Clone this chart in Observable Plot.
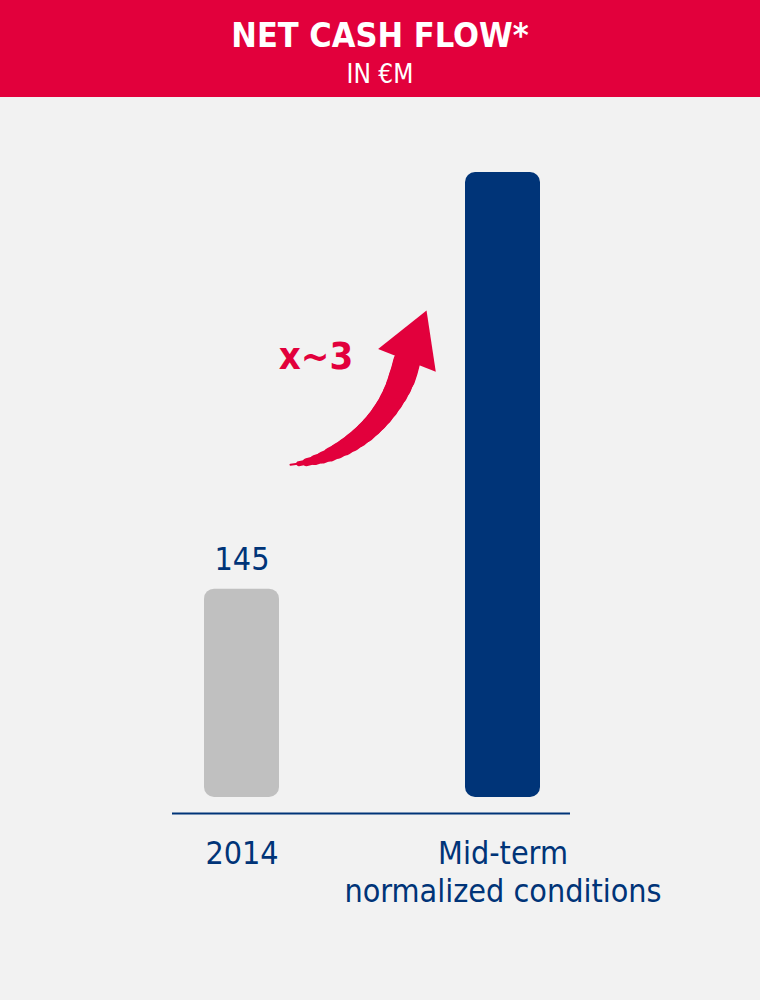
<!DOCTYPE html>
<html>
<head>
<meta charset="utf-8">
<script src="https://cdn.jsdelivr.net/npm/d3@7"></script>
<script src="https://cdn.jsdelivr.net/npm/@observablehq/plot@0.6"></script>
<style>
  html, body { margin: 0; padding: 0; background: #f2f2f2; }
  #page { width: 760px; height: 1000px; position: relative; background: #f2f2f2; overflow: hidden; }
  #header { position: relative; height: 97px; background: #e2003c; color: #ffffff;
            font-family: "DejaVu Sans Condensed", "DejaVu Sans", sans-serif; text-align: center; }
  #title { position: absolute; left: 0; width: 100%; top: 18px; font-size: 34px; font-weight: bold; line-height: 1; }
  #subtitle { position: absolute; left: 0; width: 100%; top: 61px; font-size: 26px; line-height: 1; }
</style>
</head>
<body>
<div id="page">
  <div id="header">
    <div id="title">NET CASH FLOW*</div>
    <div id="subtitle">IN €M</div>
  </div>
  <div id="chart"></div>
</div>
<script>
// ---- data ----
const categories = ["2014", "Mid-term\nnormalized conditions"];
const values = [145, 435];
const barColors = ["#c0c0c0", "#003478"];
const valueLabels = ["145", ""];

// ---- annotation: curved "x~3" arrow, in data units (x = bar index, y = €M) ----
const arrowFrom = {x: 0.1858, y: 231.6};
const arrowTo = {x: 0.6303, y: 302.8};
const arrowBend = -35.9;
// tapered shaft: successive round-capped strokes starting further along the arc, each wider
const shaftInsets = [0, 8.3, 16.5, 24.7, 32.9, 41.1, 49.3, 57.3, 65.4, 73.3, 81.3, 89.1, 96.8, 104.4, 112.0, 119.4, 126.7, 133.9, 140.9];
const shaftWidths = [2, 5, 8, 10, 12, 14, 15.5, 17, 18, 19, 20, 20.8, 21.5, 22.3, 23, 24, 25, 26, 27];
const arrowHead = {x: 0.657, y: 315.8, rotate: 21.4};
const multLabel = {x: 0.2835, y: 306.5};

const navy = "#003478";
const red = "#e2003c";
const font = '"DejaVu Sans Condensed", "DejaVu Sans", sans-serif';

const data = categories.map((c, i) => ({index: i, category: c, value: values[i], color: barColors[i], label: valueLabels[i]}));
const multiple = "x~" + Math.round(values[1] / values[0]);

const shaftMarks = shaftInsets.map((inset, k) => Plot.arrow([arrowFrom], {
  x1: () => arrowFrom.x, y1: () => arrowFrom.y,
  x2: () => arrowTo.x, y2: () => arrowTo.y,
  bend: arrowBend, headLength: 0, insetStart: inset,
  stroke: red, strokeWidth: shaftWidths[k], strokeLinecap: "round"
}));

const chart = Plot.plot({
  width: 760,
  height: 903,
  marginLeft: 172,
  marginRight: 190,
  marginTop: 75,
  marginBottom: 203,
  style: {background: "transparent", fontFamily: font, overflow: "visible"},
  x: {domain: [0, 1], range: [241.5, 502.5], axis: null},
  y: {domain: [0, 435], axis: null},
  marks: [
    Plot.rectY(data, {x1: d => d.index - 0.5, x2: d => d.index + 0.5, y: "value", fill: "color",
      rx: 10, insetLeft: 93, insetRight: 93}),
    Plot.ruleY([0], {stroke: navy, strokeWidth: 2, dy: 16}),
    Plot.text(data.filter(d => d.label), {x: "index", y: "value", text: "label", dy: -19,
      lineAnchor: "bottom", fill: navy, fontSize: 32}),
    Plot.text(data, {x: "index", text: "category", frameAnchor: "bottom", lineAnchor: "top",
      dy: 40, lineHeight: 1.17, fill: navy, fontSize: 32}),
    ...shaftMarks,
    Plot.dot([arrowHead], {x: "x", y: "y", symbol: "triangle", r: 23, rotate: arrowHead.rotate,
      fill: red, stroke: "none"}),
    Plot.text([multLabel], {x: "x", y: "y", text: () => multiple,
      fill: red, fontSize: 38, fontWeight: "bold", lineAnchor: "middle"})
  ]
});
document.getElementById("chart").appendChild(chart);
</script>
</body>
</html>
